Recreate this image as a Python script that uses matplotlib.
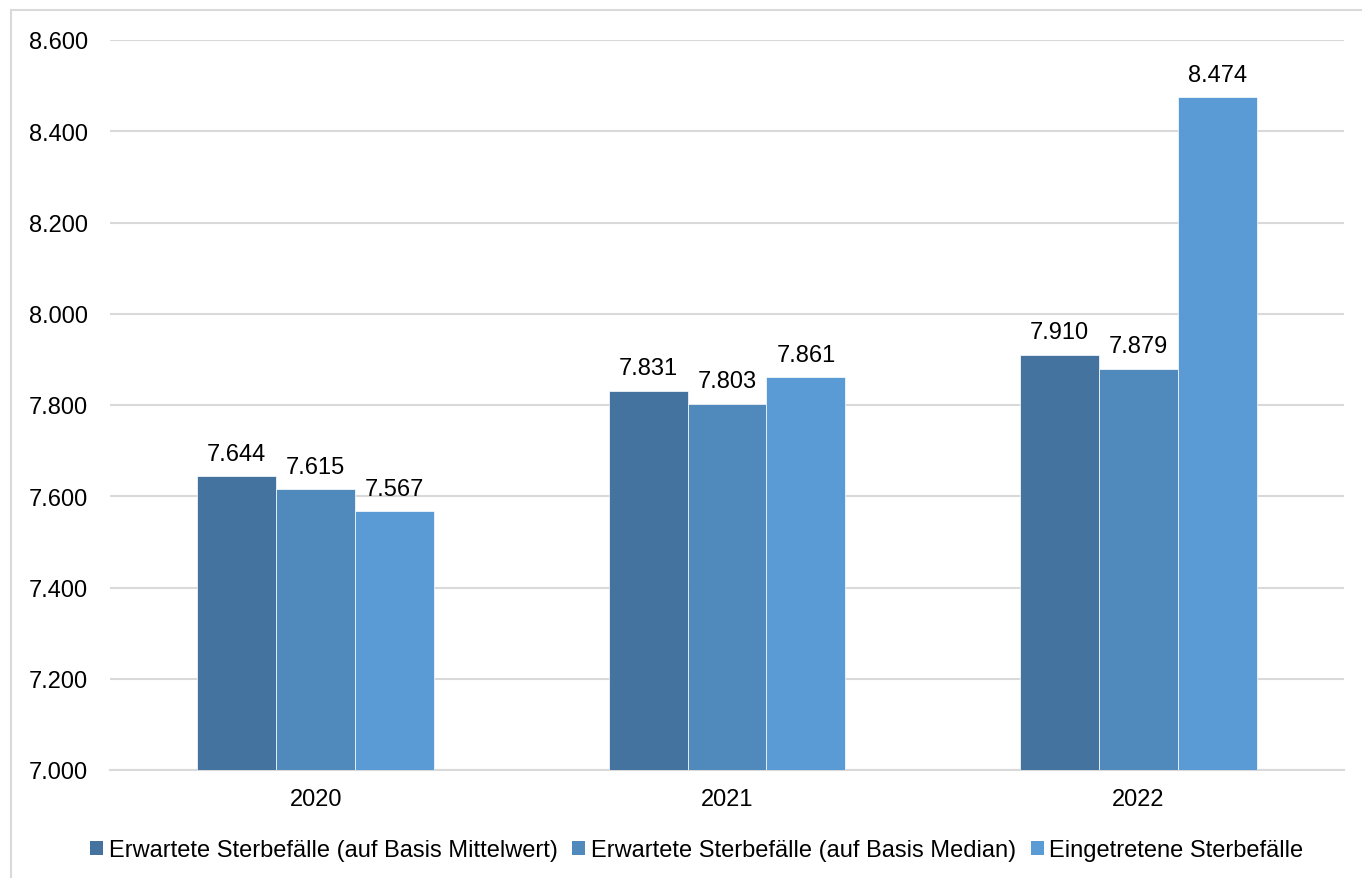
import matplotlib
matplotlib.use("Agg")
import matplotlib.pyplot as plt
from matplotlib.patches import Rectangle, Patch
import numpy as np

plt.rcParams['font.family'] = ['Liberation Sans', 'DejaVu Sans']

years = ["2020", "2021", "2022"]
series_names = [
    "Erwartete Sterbefälle (auf Basis Mittelwert)",
    "Erwartete Sterbefälle (auf Basis Median)",
    "Eingetretene Sterbefälle",
]
mittelwert = [7644, 7831, 7910]
median = [7615, 7803, 7879]
eingetreten = [7567, 7861, 8474]
y_ticks = [7000, 7200, 7400, 7600, 7800, 8000, 8200, 8400, 8600]

colors = ["#43739E", "#508ABD", "#5B9BD5"]
FS = 17


def de_fmt(v):
    return f"{v:,.0f}".replace(",", ".")


fig = plt.figure(figsize=(13.62, 8.79), dpi=100)
fig.patch.set_facecolor("white")

# light frame around the chart area
fig.patches.append(Rectangle((11 / 1362, -0.1), 1.2, 1 - 11 / 879 + 0.1,
                             transform=fig.transFigure, fill=False,
                             edgecolor="#D9D9D9", linewidth=1.5, zorder=0))

ax = fig.add_axes([110 / 1362, 1 - 771 / 879, 1234 / 1362, 730 / 879])

x = np.arange(len(years))
w = 0.192
data = [mittelwert, median, eingetreten]
for i, (vals, name, c) in enumerate(zip(data, series_names, colors)):
    pos = x + (i - 1) * w
    ax.bar(pos, np.array(vals) - 7000, width=w, bottom=7000, color=c,
           edgecolor="white", linewidth=0.5, label=name, zorder=3)
    for px, v in zip(pos, vals):
        ax.annotate(de_fmt(v), (px, v), xytext=(0, 12), textcoords="offset points",
                    ha="center", va="baseline", fontsize=FS, color="black")

ax.set_xlim(-0.5, 2.5)
ax.set_ylim(7000, 8600)
ax.set_yticks(y_ticks)
ax.set_yticklabels([de_fmt(v) for v in y_ticks])
ax.set_xticks(x)
ax.set_xticklabels(years)
ax.tick_params(axis="both", length=0, labelsize=FS, colors="black")
ax.tick_params(axis="y", pad=16)
ax.tick_params(axis="x", pad=13)
ax.grid(axis="y", color="#D9D9D9", linewidth=1.5, zorder=0)
for s in ["top", "right", "left"]:
    ax.spines[s].set_visible(False)
ax.spines["bottom"].set_color("#D9D9D9")
ax.spines["bottom"].set_linewidth(1.5)
ax.set_axisbelow(True)

handles = [Patch(facecolor=c, edgecolor="none") for c in colors]
fig.legend(handles, series_names, loc="center", ncol=3,
           bbox_to_anchor=(697 / 1362, 1 - 851 / 879), frameon=False,
           fontsize=FS, handlelength=0.55, handleheight=0.55,
           handletextpad=0.25, columnspacing=0.6, borderaxespad=0)

fig.savefig("out.png", dpi=100)
